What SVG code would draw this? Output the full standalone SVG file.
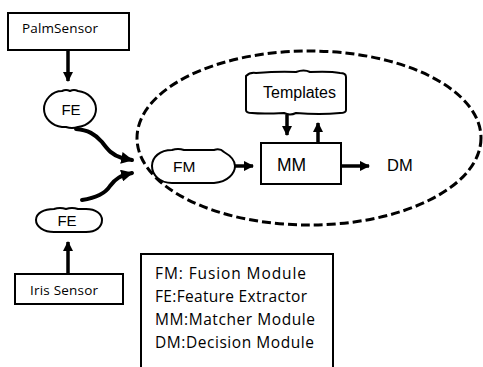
<svg xmlns="http://www.w3.org/2000/svg" width="483" height="367" viewBox="0 0 483 367">
<style>
.box{fill:#fff;stroke:#000;stroke-width:2}
.cl{fill:#fff;stroke:#000;stroke-width:2;stroke-linejoin:round}
.ln{fill:none;stroke:#000;stroke-width:3.5}
.cv{fill:none;stroke:#000;stroke-width:4;stroke-linecap:round}
.t{font-family:"Liberation Sans",Arial,sans-serif;font-size:15px;fill:#000}
.c{font-family:"Open Sans","Liberation Sans",sans-serif;font-size:13.5px;fill:#000}
.lg{font-family:"Open Sans","Liberation Sans",sans-serif;font-size:15.5px;fill:#000}
</style>
<defs>
<marker id="ah" viewBox="0 0 10 10" refX="9" refY="5" markerWidth="3" markerHeight="3" orient="auto" markerUnits="strokeWidth">
<path d="M0,0 L10,5 L0,10 Z" fill="#000"/>
</marker>
</defs>
<g id="group">
<ellipse cx="309" cy="138" rx="172" ry="87" fill="none" stroke="#000" stroke-width="3" stroke-dasharray="9,4"/>
</g>
<g id="connectors">
<path class="ln" d="M68,50 V81" marker-end="url(#ah)"/>
<path class="ln" d="M68,274 V242" marker-end="url(#ah)"/>
<path class="cv" d="M76,129 C88,130 95,134 102,142 C108,150 112,155 122,158 L132,160" marker-end="url(#ah)"/>
<path class="cv" d="M82,200 C95,198 105,194 110,186 C116,178 120,176 132,173" marker-end="url(#ah)"/>
<path class="ln" d="M235,166 H253" marker-end="url(#ah)"/>
<path class="ln" d="M341,166 H369" marker-end="url(#ah)"/>
<path class="ln" d="M287,115 V135" marker-end="url(#ah)"/>
<path class="ln" d="M318,143 V123" marker-end="url(#ah)"/>
</g>
<g id="palm">
<rect class="box" x="8" y="13" width="121" height="37"/>
<text class="c" x="22" y="33" textLength="76">PalmSensor</text>
</g>
<g id="fe1">
<path class="cl" d="M44,109 C44,100 52,91 62,91 Q66,89 70,91 Q74,89 78,91 C88,92 96,100 96,109 C96,118 88,126 78,127 Q72,129 66,127 L62,127 C52,126 44,118 44,109 Z"/>
<text class="t" x="71" y="115" text-anchor="middle">FE</text>
</g>
<g id="fe2">
<path class="cl" d="M36,220 C36,213 44,209 54,209 Q60,207 66,209 Q72,207 78,209 L86,209 C96,209 102,214 102,220 C102,227 96,232 86,232 L54,232 C44,232 36,227 36,220 Z"/>
<text class="t" x="67" y="226" text-anchor="middle">FE</text>
</g>
<g id="iris">
<rect class="box" x="15" y="274" width="108" height="30"/>
<text class="c" x="30" y="295" textLength="68">Iris Sensor</text>
</g>
<g id="fm">
<path class="cl" d="M152,166 C152,157 160,150 172,150 Q178,148 184,150 L214,150 Q220,148 224,152 C231,156 235,161 235,166 C235,173 228,182 214,183 L172,183 C160,183 152,175 152,166 Z"/>
<text class="t" x="173" y="172" style="font-size:15.5px">FM</text>
</g>
<g id="mm">
<rect class="box" x="261" y="143" width="80" height="41"/>
<text class="t" x="277" y="171" style="font-size:17.5px">MM</text>
</g>
<g id="templates">
<path class="cl" d="M246,76 Q250,72 256,73 Q280,71 296,72 Q304,69 310,72 Q330,71 340,73 Q346,73 346,77 L346,110 Q346,113 340,113 Q320,115 296,113 Q290,116 284,113 Q262,114 252,113 Q246,113 246,110 Z"/>
<text class="t" x="263" y="98" style="font-size:16px">Templates</text>
</g>
<g id="dm">
<text class="t" x="387" y="171" style="font-size:16.5px">DM</text>
</g>
<g id="legend">
<path d="M141,367 V254 H333 V367" fill="#fff" stroke="#000" stroke-width="2"/>
<text class="lg" x="155" y="279" textLength="151">FM: Fusion Module</text>
<text class="lg" x="155" y="302" textLength="152">FE:Feature Extractor</text>
<text class="lg" x="155" y="325" textLength="160">MM:Matcher Module</text>
<text class="lg" x="155" y="348" textLength="159">DM:Decision Module</text>
</g>
</svg>
